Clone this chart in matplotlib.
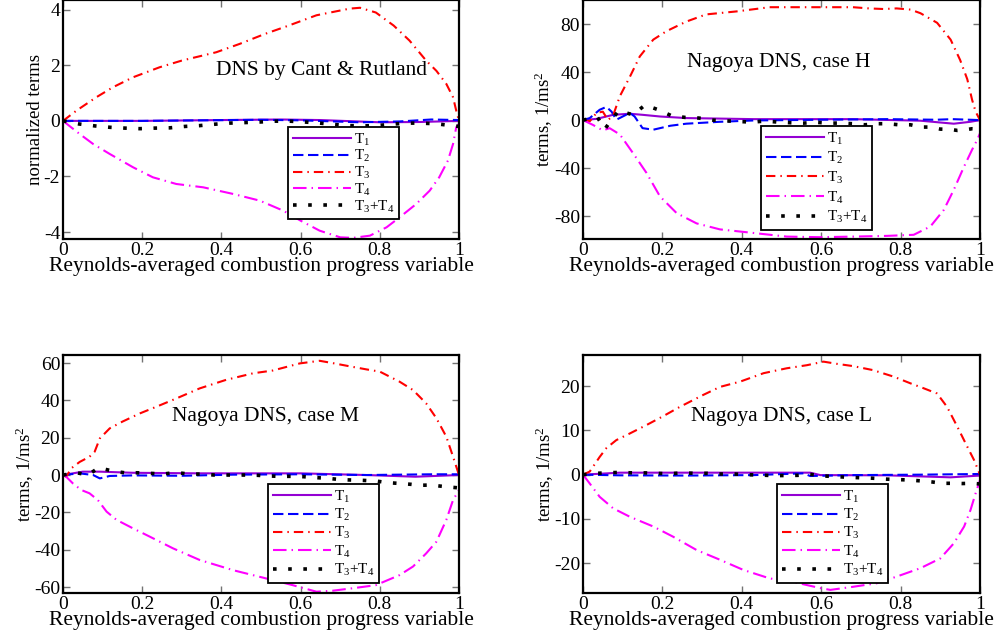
import matplotlib
matplotlib.use("Agg")
import matplotlib.pyplot as plt
import numpy as np

plt.rcParams['font.family'] = ['Liberation Serif', 'DejaVu Serif']
plt.rcParams['mathtext.fontset'] = 'custom'
plt.rcParams['mathtext.rm'] = 'Liberation Serif'
plt.rcParams['mathtext.it'] = 'Liberation Serif:italic'

# ---------------- Panel 1: DNS by Cant & Rutland ----------------
p1_t3_x = [0, 0.034, 0.084, 0.126, 0.177, 0.244, 0.30, 0.387, 0.446, 0.51, 0.57, 0.64, 0.724, 0.75, 0.79, 0.835, 0.875, 0.917, 0.943, 0.968, 0.985, 0.993, 1.0]
p1_t3_y = [0, 0.37, 0.85, 1.21, 1.57, 1.93, 2.17, 2.47, 2.77, 3.13, 3.43, 3.8, 4.04, 4.07, 3.9, 3.43, 2.89, 2.17, 1.8, 1.33, 0.85, 0.37, 0.0]
p1_t4_x = [0, 0.042, 0.076, 0.118, 0.177, 0.227, 0.286, 0.354, 0.43, 0.497, 0.556, 0.6, 0.648, 0.7, 0.732, 0.775, 0.817, 0.85, 0.892, 0.926, 0.95, 0.972, 0.985, 0.993, 1.0]
p1_t4_y = [0, -0.47, -0.83, -1.19, -1.67, -2.03, -2.27, -2.39, -2.63, -2.87, -3.23, -3.59, -3.95, -4.19, -4.21, -4.13, -3.83, -3.47, -2.99, -2.51, -2.03, -1.43, -0.83, -0.23, -0.1]
p1_t1_x = [0, 0.2, 0.4, 0.55, 0.65, 0.8, 0.9, 1.0]
p1_t1_y = [0, 0.0, 0.03, 0.05, 0.03, -0.05, -0.04, 0.0]
p1_t2_x = [0, 0.2, 0.5, 0.6, 0.75, 0.85, 0.93, 1.0]
p1_t2_y = [0, 0.0, 0.04, 0.02, -0.05, -0.02, 0.05, 0.03]
p1_s_x = [0, 0.04, 0.08, 0.118, 0.156, 0.194, 0.232, 0.27, 0.307, 0.345, 0.383, 0.42, 0.46, 0.497, 0.535, 0.572, 0.61, 0.648, 0.686, 0.724, 0.762, 0.8, 0.838, 0.87, 0.9, 0.94, 0.975, 1.0]
p1_s_y = [0, -0.11, -0.18, -0.23, -0.26, -0.28, -0.26, -0.25, -0.2, -0.17, -0.12, -0.08, -0.06, -0.04, -0.01, -0.01, -0.04, -0.08, -0.13, -0.17, -0.18, -0.16, -0.11, -0.08, -0.08, -0.1, -0.16, -0.2]

# ---------------- Panel 2: Nagoya DNS, case H ----------------
p2_t3_x = [0, 0.017, 0.034, 0.05, 0.063, 0.076, 0.093, 0.118, 0.143, 0.177, 0.21, 0.26, 0.31, 0.387, 0.47, 0.598, 0.68, 0.72, 0.757, 0.79, 0.825, 0.85, 0.892, 0.926, 0.95, 0.968, 0.98, 0.989, 1.0]
p2_t3_y = [0, -1, 6, 7, 0, 4, 20, 36, 53, 67, 74, 82, 88, 90.5, 94, 94, 94, 93, 92.5, 93, 92, 89, 81, 67, 50, 34, 17, 7, 0]
p2_t4_x = [0, 0.025, 0.05, 0.067, 0.093, 0.126, 0.16, 0.194, 0.236, 0.286, 0.345, 0.43, 0.513, 0.598, 0.68, 0.766, 0.833, 0.875, 0.909, 0.934, 0.96, 0.98, 0.993, 1.0]
p2_t4_y = [0, -4, -8.6, -6.7, -12, -27.5, -44, -63.6, -77.5, -86, -91, -94, -97, -97.5, -97, -96.4, -95.5, -88.6, -74.7, -58, -38.6, -24.7, -16.4, -11]
p2_t1_x = [0, 0.034, 0.076, 0.118, 0.15, 0.194, 0.26, 0.43, 0.68, 0.85, 0.934, 0.976, 1.0]
p2_t1_y = [0, 1, 4.4, 5.3, 4.4, 3, 1.7, 0.8, 0.8, -0.5, -3, -1.4, 0]
p2_t2_x = [0, 0.017, 0.042, 0.059, 0.072, 0.084, 0.1, 0.118, 0.13, 0.15, 0.177, 0.22, 0.26, 0.345, 0.43, 0.6, 0.766, 0.89, 0.93, 1.0]
p2_t2_y = [0, 1.7, 8.6, 11, 7, 0.3, 3, 6, 3, -6.7, -8, -4.7, -3, -1.4, -0.3, 0.3, 0.8, 0.3, 0.8, 0]
p2_s_x = [0, 0.036, 0.055, 0.072, 0.09, 0.126, 0.156, 0.19, 0.223, 0.258, 0.292, 0.327, 0.358, 0.39, 0.425, 0.459, 0.492, 0.523, 0.556, 0.589, 0.619, 0.648, 0.68, 0.71, 0.74, 0.766, 0.796, 0.825, 0.85, 0.875, 0.9, 0.926, 0.943, 0.96, 0.98, 1.0]
p2_s_y = [0, 2.5, -7.5, 0.3, 7.8, 4.4, 12.5, 8.6, 3.6, 2.2, 1.7, 0, -0.6, -1.1, -1.7, -0.8, -1.7, -2.2, -2.5, -1.9, -2.5, -2.5, -3, -3.9, -3, -3, -3.9, -3.9, -5.8, -5.8, -7.5, -7.8, -8.6, -8.2, -7.2, -7.5]

# ---------------- Panel 3: Nagoya DNS, case M ----------------
p3_t3_x = [0, 0.008, 0.021, 0.042, 0.067, 0.08, 0.093, 0.118, 0.15, 0.194, 0.236, 0.286, 0.345, 0.412, 0.48, 0.53, 0.598, 0.648, 0.68, 0.73, 0.766, 0.8, 0.85, 0.884, 0.917, 0.943, 0.968, 0.985, 1.0]
p3_t3_y = [0, -0.9, 3.6, 7, 9.8, 12.5, 19.6, 25, 28.6, 33, 36.6, 41, 46.4, 51, 54.5, 56, 59.8, 61.2, 60, 58, 56.6, 55.4, 50, 45.5, 38.4, 30.4, 20.5, 9.8, 0]
p3_t4_x = [0, 0.008, 0.025, 0.046, 0.067, 0.088, 0.11, 0.135, 0.177, 0.219, 0.278, 0.345, 0.43, 0.513, 0.58, 0.64, 0.68, 0.73, 0.79, 0.85, 0.884, 0.917, 0.943, 0.968, 0.985, 1.0]
p3_t4_y = [0, -0.9, -4.5, -8, -9.8, -13.4, -19.6, -24, -28.6, -33, -39.3, -45.5, -51, -55.4, -59, -62.5, -62, -60.7, -59, -53.6, -49, -42, -35.7, -24, -13.4, -8]
p3_t1_x = [0, 0.05, 0.093, 0.177, 0.345, 0.6, 0.766, 0.89, 1.0]
p3_t1_y = [0, 1.8, 1.8, 1.2, 0.9, 0.9, 0, -0.9, 0]
p3_t2_x = [0, 0.042, 0.076, 0.093, 0.118, 0.177, 0.3, 0.43, 0.6, 0.766, 0.934, 1.0]
p3_t2_y = [0, 0.9, 0, -1.8, -0.5, -0.2, -0.4, 0.2, 0.4, 0, 0.4, 0.4]
p3_s_x = [0, 0.035, 0.063, 0.09, 0.126, 0.156, 0.188, 0.22, 0.253, 0.284, 0.318, 0.348, 0.383, 0.417, 0.448, 0.48, 0.511, 0.543, 0.577, 0.608, 0.64, 0.67, 0.703, 0.732, 0.762, 0.79, 0.82, 0.85, 0.88, 0.9, 0.92, 0.943, 0.968, 1.0]
p3_s_y = [0, 1.2, 0, 3.9, 2.1, 1.2, 1.2, 0.9, 0.5, 1.4, 0.5, 0.5, 0, 0, 0, 0, -0.4, -0.7, -0.7, -0.9, -1.4, -1.8, -2.5, -2.7, -2.9, -3.2, -4.1, -4.5, -5, -5.5, -5.4, -5.7, -6.3, -6.9]

# ---------------- Panel 4: Nagoya DNS, case L ----------------
p4_t3_x = [0, 0.017, 0.042, 0.059, 0.084, 0.118, 0.16, 0.2, 0.244, 0.303, 0.345, 0.396, 0.455, 0.513, 0.564, 0.606, 0.64, 0.68, 0.73, 0.783, 0.825, 0.858, 0.892, 0.917, 0.943, 0.968, 0.985, 1.0]
p4_t3_y = [0, 0.7, 4, 6, 7.8, 9.3, 11.2, 13.1, 15.3, 18, 19.8, 21, 22.9, 24, 24.7, 25.5, 25, 24.5, 23.6, 22.1, 20.6, 19.5, 18.3, 15.3, 10.8, 6.3, 3.3, 0]
p4_t4_x = [0, 0.017, 0.042, 0.076, 0.118, 0.177, 0.227, 0.286, 0.345, 0.404, 0.47, 0.539, 0.598, 0.623, 0.68, 0.74, 0.79, 0.85, 0.9, 0.934, 0.96, 0.976, 0.989, 1.0]
p4_t4_y = [0, -2, -5, -7.6, -9.5, -11.7, -14, -17, -19.2, -21.5, -23.4, -24.4, -25.6, -26, -25.3, -24.5, -23, -21.1, -18.9, -15.5, -11.7, -8, -4.2, -1.2]
p4_t1_x = [0, 0.093, 0.26, 0.572, 0.598, 0.766, 0.926, 1.0]
p4_t1_y = [0, 0.45, 0.45, 0.45, -0.1, -0.15, -0.6, -0.2]
p4_t2_x = [0, 0.093, 0.26, 0.43, 0.556, 0.572, 0.68, 0.85, 1.0]
p4_t2_y = [0, -0.15, -0.2, -0.1, 0.3, -0.3, -0.1, 0, 0.15]
p4_s_x = [0, 0.035, 0.063, 0.093, 0.126, 0.156, 0.185, 0.216, 0.25, 0.282, 0.314, 0.345, 0.38, 0.412, 0.444, 0.476, 0.509, 0.541, 0.572, 0.606, 0.64, 0.67, 0.7, 0.73, 0.762, 0.79, 0.82, 0.85, 0.88, 0.905, 0.93, 0.955, 0.98, 1.0]
p4_s_y = [0, 0.3, 0.45, 0.5, 0.4, 0.4, 0.3, 0.2, 0.4, 0.3, 0.3, 0.15, 0.15, 0, -0.08, -0.2, -0.2, -0.15, 0.08, -0.3, -0.45, -0.6, -0.7, -0.8, -1, -1.1, -1.2, -1.4, -1.65, -1.95, -1.95, -2, -1.95, -2.1]

labels = ['T$_1$', 'T$_2$', 'T$_3$', 'T$_4$', 'T$_3$+T$_4$']
xticks = [0, 0.2, 0.4, 0.6, 0.8, 1.0]
xticklabels = ['0', '0.2', '0.4', '0.6', '0.8', '1']

panels = [
    dict(series=[(p1_t1_x, p1_t1_y), (p1_t2_x, p1_t2_y), (p1_t3_x, p1_t3_y), (p1_t4_x, p1_t4_y), (p1_s_x, p1_s_y)],
         ylim=(-4.25, 4.35), yticks=[-4, -2, 0, 2, 4], ylabel='normalized terms',
         title='DNS by Cant & Rutland', box=(63, 0, 459, 239), title_xy=(321, 70),
         leg=(288, 127), lsp=0.04, ylabel_x=44),
    dict(series=[(p2_t1_x, p2_t1_y), (p2_t2_x, p2_t2_y), (p2_t3_x, p2_t3_y), (p2_t4_x, p2_t4_y), (p2_s_x, p2_s_y)],
         ylim=(-99, 100), yticks=[-80, -40, 0, 40, 80], ylabel='terms, 1/ms$^2$',
         title='Nagoya DNS, case H', box=(583, 0, 980, 239), title_xy=(779, 63),
         leg=(761, 126), lsp=0.23, ylabel_x=555),
    dict(series=[(p3_t1_x, p3_t1_y), (p3_t2_x, p3_t2_y), (p3_t3_x, p3_t3_y), (p3_t4_x, p3_t4_y), (p3_s_x, p3_s_y)],
         ylim=(-63.2, 64.3), yticks=[-60, -40, -20, 0, 20, 40, 60], ylabel='terms, 1/ms$^2$',
         title='Nagoya DNS, case M', box=(63, 355, 459, 593), title_xy=(265, 417),
         leg=(268, 484), lsp=0.15, ylabel_x=36),
    dict(series=[(p4_t1_x, p4_t1_y), (p4_t2_x, p4_t2_y), (p4_t3_x, p4_t3_y), (p4_t4_x, p4_t4_y), (p4_s_x, p4_s_y)],
         ylim=(-26.7, 27.0), yticks=[-20, -10, 0, 10, 20], ylabel='terms, 1/ms$^2$',
         title='Nagoya DNS, case L', box=(583, 355, 980, 593), title_xy=(782, 417),
         leg=(777, 484), lsp=0.15, ylabel_x=556),
]

styles = [
    dict(color='#9400d3', lw=1.5, ls='-'),
    dict(color='#0000ff', lw=1.5, ls=(0, (5, 2.2))),
    dict(color='#ff0000', lw=1.5, ls=(0, (4.5, 2.4, 0.7, 2.4))),
    dict(color='#ff00ff', lw=1.5, ls=(0, (6.5, 2.4, 0.7, 2.4))),
    dict(color='#000000', lw=2.6, ls=(0, (1, 3.2))),
]

W, H = 1000, 638
fig = plt.figure(figsize=(W / 100, H / 100), dpi=100)

for p in panels:
    x0, y0, x1, y1 = p['box']
    ax = fig.add_axes([x0 / W, 1 - y1 / H, (x1 - x0) / W, (y1 - y0) / H])
    for (xs, ys), st, lab in zip(p['series'], styles, labels):
        ax.plot(xs, ys, color=st['color'], lw=st['lw'], linestyle=st['ls'], label=lab)
    ax.set_xlim(0, 1)
    ax.set_ylim(*p['ylim'])
    ax.set_xticks(xticks)
    ax.set_xticklabels(xticklabels)
    ax.set_yticks(p['yticks'])
    ax.set_yticklabels([str(v) for v in p['yticks']])
    ax.tick_params(direction='in', length=5, width=1, color='0.45', top=True, right=True,
                   labelsize=14, pad=2, labelcolor='black')
    for s in ax.spines.values():
        s.set_linewidth(1.6)
        s.set_color('black')
    ax.set_xlabel('Reynolds-averaged combustion progress variable', fontsize=15.5, labelpad=-1)
    ax.set_ylabel(p['ylabel'], fontsize=13.5)
    ax.yaxis.set_label_coords((p['ylabel_x'] - x0) / (x1 - x0), 0.5)
    tx, ty = p['title_xy']
    ax.text((tx - x0) / (x1 - x0), (y1 - ty) / (y1 - y0), p['title'], transform=ax.transAxes,
            ha='center', va='center', fontsize=15.5)
    lx, ly = p['leg']
    leg = ax.legend(loc='upper left', bbox_to_anchor=(lx / W, 1 - ly / H), bbox_transform=fig.transFigure,
                    borderaxespad=0, fontsize=11, handlelength=3.8, handletextpad=0.25,
                    labelspacing=p['lsp'], borderpad=0.3, fancybox=False, framealpha=1,
                    edgecolor='black')
    leg.get_frame().set_linewidth(1.3)

fig.savefig('out.png', dpi=100)
